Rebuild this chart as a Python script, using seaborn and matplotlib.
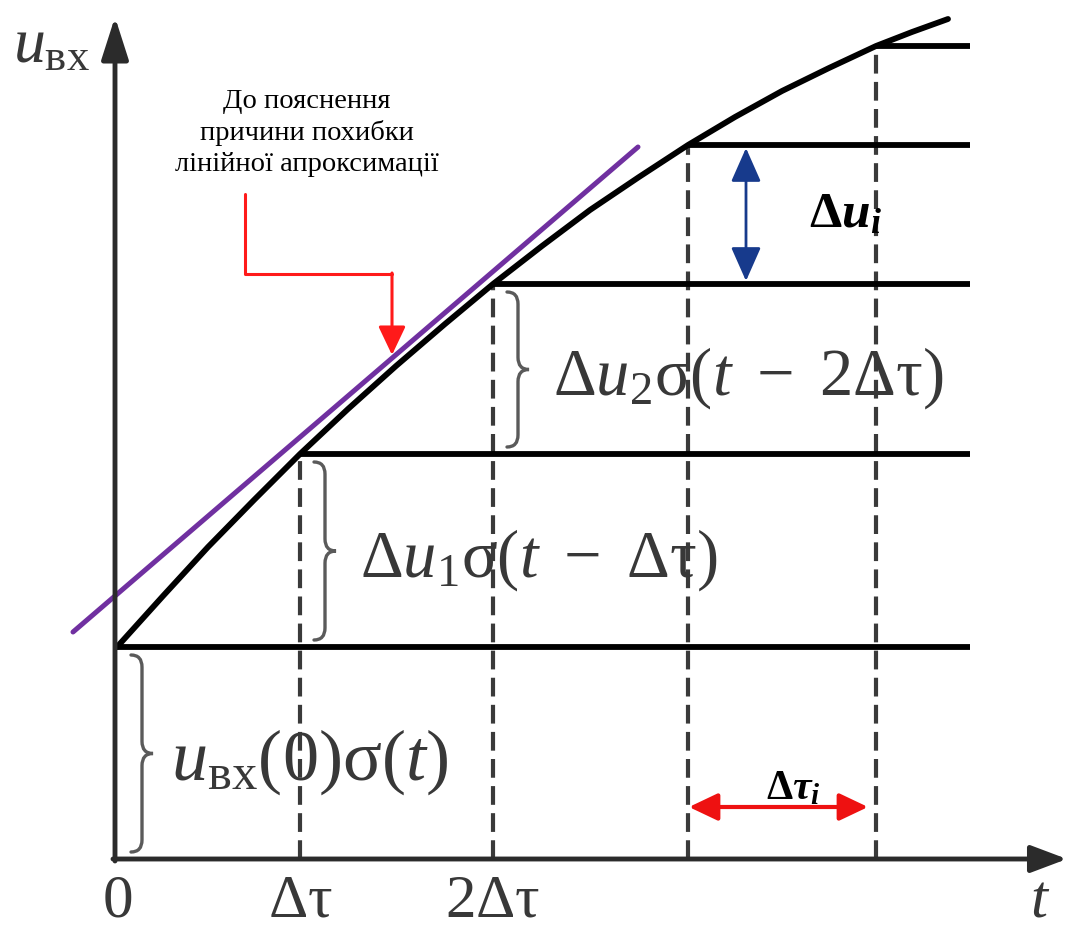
import matplotlib
matplotlib.use("Agg")
import matplotlib.pyplot as plt
import seaborn as sns
from matplotlib.path import Path
from matplotlib.patches import PathPatch

# Input voltage u_вх(t), sampled along the curve (diagram units)
t_curve = [0, 46, 91, 137, 183, 231, 279, 328, 376, 425, 473, 522, 571,
           618, 665, 712, 759, 795, 831]
u_curve = [212, 263, 312, 359, 405, 450, 493, 535, 575, 613, 649, 682, 714,
           742, 768, 791, 813, 827, 840]

# Step approximation: switching instants k*Δτ and the held levels
t_steps = [0, 183, 376, 571, 759]
u_steps = [212, 405, 575, 714, 813]
t_end = 853

# Straight line of the linear approximation
t_lin = [-44, 521]
u_lin = [227, 712]

# Axis labels
tick_pos = [0, 183, 376]
tick_labels = [r'$0$', r'$\mathrm{\Delta\tau}$', r'$2\mathrm{\Delta\tau}$']
time_label = r'$t$'
volt_label = r'$u_{\mathrm{вх}}$'

# Components of the staircase sum
step_labels = [
    r'$u_{\mathrm{вх}}(0)\mathrm{\sigma}(t)$',
    r'$\mathrm{\Delta}u_1\mathrm{\sigma}(t\ -\ \mathrm{\Delta\tau})$',
    r'$\mathrm{\Delta}u_2\mathrm{\sigma}(t\ -\ 2\mathrm{\Delta\tau})$',
]
note_text = "До пояснення\nпричини похибки\nлінійної апроксимації"
du_label = r'$\mathbf{\Delta}\mathbfit{u}_{\mathbfit{i}}$'
dt_label = r'$\mathbf{\Delta}\mathbfit{\tau}_{\mathbfit{i}}$'

sns.set_theme(style="white")
plt.rcParams['font.family'] = ['Liberation Serif', 'DejaVu Serif']
plt.rcParams['mathtext.fontset'] = 'custom'
plt.rcParams['mathtext.rm'] = 'Liberation Serif'
plt.rcParams['mathtext.it'] = 'Liberation Serif:italic'
plt.rcParams['mathtext.bf'] = 'Liberation Serif:bold'
plt.rcParams['mathtext.bfit'] = 'Liberation Serif:bold:italic'

fig = plt.figure(figsize=(10.67, 9.29), dpi=100)
ax = fig.add_axes([0, 0, 1, 1])
ax.set_xlim(-117, 950)
ax.set_ylim(-69, 860)
ax.axis('off')

axis_col = '#2b2b2b'
text_col = '#383838'

# Coordinate axes with arrow heads
ax.annotate('', xy=(-2, 842), xytext=(-2, -2),
            arrowprops=dict(arrowstyle='-|>,head_length=1.0,head_width=0.32',
                            mutation_scale=26, color=axis_col, lw=3.5,
                            shrinkA=0, shrinkB=0))
ax.annotate('', xy=(950, 0), xytext=(-4, 0),
            arrowprops=dict(arrowstyle='-|>,head_length=0.85,head_width=0.32',
                            mutation_scale=26, color=axis_col, lw=3.5,
                            shrinkA=0, shrinkB=0))

# Dashed drop lines at the switching instants
ax.vlines(t_steps[1:], 0, u_steps[1:], colors='#3a3a3a', linestyles=(0, (4.5, 2)), lw=3)

# Held levels
ax.hlines(u_steps, t_steps, t_end, colors='black', lw=4.2)

# Continuous signal and its linear approximation
sns.lineplot(x=t_curve, y=u_curve, color='black', lw=4.2, ax=ax)
sns.lineplot(x=t_lin, y=u_lin, color='#7030a0', lw=3.6, ax=ax)


def brace(x0, y_lo, y_hi, width, color='#5a5a5a', lw=2.4):
    """Right-pointing curly brace between y_lo and y_hi."""
    ym = 0.5 * (y_lo + y_hi)
    xm = x0 + width / 2
    q = width * 0.55
    verts = [(x0, y_hi), (xm, y_hi), (xm, y_hi - q),
             (xm, ym + q), (xm, ym), (x0 + width, ym),
             (xm, ym), (xm, ym - q),
             (xm, y_lo + q), (xm, y_lo), (x0, y_lo)]
    codes = [Path.MOVETO, Path.CURVE3, Path.CURVE3,
             Path.LINETO, Path.CURVE3, Path.CURVE3,
             Path.CURVE3, Path.CURVE3,
             Path.LINETO, Path.CURVE3, Path.CURVE3]
    ax.add_patch(PathPatch(Path(verts, codes), fill=False, edgecolor=color, lw=lw,
                           capstyle='round'))
    return x0 + width, ym


lows = [0] + u_steps[:2]
highs = u_steps[:3]
label_sizes = [52, 48, 48]
for k, (lo, hi, lab) in enumerate(zip(lows, highs, step_labels)):
    x0 = t_steps[k] + 14
    tip_x, ym = brace(x0, lo + 7, hi - 8, 22)
    ax.text(tip_x + (18 if k == 0 else 24), ym - 8, lab, fontsize=label_sizes[k],
            color=text_col, ha='left', va='center')

# Tick labels under the time axis
for pos, lab in zip(tick_pos, tick_labels):
    ax.text(pos, -57, lab, fontsize=44, color=text_col, ha='center', va='baseline')
ax.text(923, -57, time_label, fontsize=44, color=text_col, ha='center', va='baseline')
ax.text(-104, 798, volt_label, fontsize=46, color=text_col, ha='left', va='baseline')

# Explanatory note with the red pointer
ax.text(190, 727, note_text, fontsize=20.5, color='black', ha='center', va='center',
        multialignment='center', linespacing=1.32)
ax.plot([128, 128, 275], [665, 585, 585], color='#ff1a1a', lw=2.2)
ax.annotate('', xy=(275, 504), xytext=(275, 586),
            arrowprops=dict(arrowstyle='-|>,head_length=0.8,head_width=0.38',
                            mutation_scale=22, color='#ff1a1a', lw=2.2,
                            shrinkA=0, shrinkB=0))

# Level increment Δu_i
ax.annotate('', xy=(629, u_steps[3] - 3), xytext=(629, u_steps[2] + 3),
            arrowprops=dict(arrowstyle='<|-|>,head_length=0.95,head_width=0.42',
                            mutation_scale=22, color='#173a8c', lw=2.0,
                            shrinkA=0, shrinkB=0))
ax.text(692, 633, du_label, fontsize=37, color='black', ha='left', va='baseline')

# Time increment Δτ_i
ax.annotate('', xy=(t_steps[3] + 1, 52), xytext=(t_steps[4] - 8, 52),
            arrowprops=dict(arrowstyle='<|-|>,head_length=0.8,head_width=0.38',
                            mutation_scale=22, color='#ee1111', lw=3.0,
                            shrinkA=0, shrinkB=0))
ax.text(676, 61, dt_label, fontsize=30, color='black', ha='center', va='baseline')

fig.savefig('out.png', dpi=100, facecolor='white')
